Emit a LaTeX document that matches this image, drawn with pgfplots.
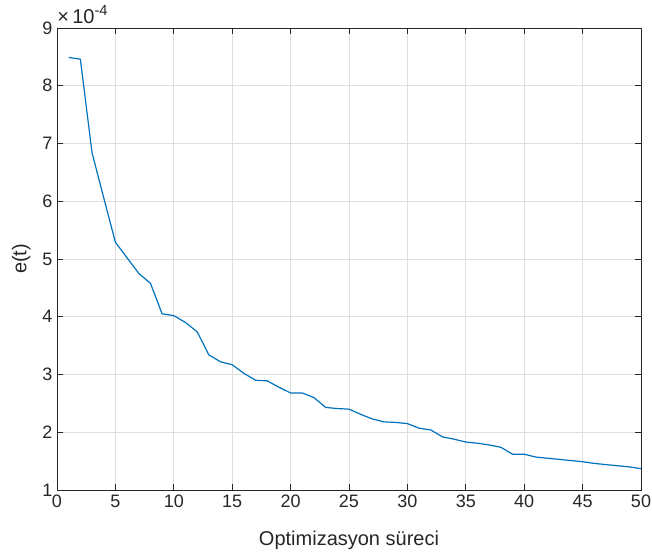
\documentclass[border=0pt]{standalone}
\usepackage{fontspec}
\setmainfont{Liberation Sans}
\usepackage{pgfplots}
\pgfplotsset{compat=1.18}
\definecolor{mblue}{RGB}{0,114,189}
\definecolor{axgray}{RGB}{38,38,38}
\definecolor{gridgray}{RGB}{222,222,222}

\begin{document}
\begin{tikzpicture}[x=1pt,y=1pt]
% page = 652x555 px at 0.75pt per px, axis box at 57..641 x 28..490 px
\path[use as bounding box] (-42.75,-48.75) rectangle (446.25,367.5);
\begin{axis}[
  at={(0,0)}, anchor=south west,
  scale only axis, width=438pt, height=346.5pt,
  xmin=0, xmax=50, ymin=1e-4, ymax=9e-4,
  xtick={0,5,10,15,20,25,30,35,40,45,50},
  ytick={1e-4,2e-4,3e-4,4e-4,5e-4,6e-4,7e-4,8e-4,9e-4},
  scaled y ticks=base 10:4,
  ytick scale label code/.code={×\,10\raisebox{0.75ex}{\fontsize{11}{13}\selectfont #1}},
  every y tick scale label/.style={at={(rel axis cs:0,1)}, anchor=south west,
    inner sep=0pt, yshift=3pt, font=\fontsize{15}{18}\selectfont, text=axgray},
  tick align=inside, tick pos=both,
  major tick length=4.5pt,
  grid=major, major grid style={gridgray, line width=0.6pt},
  axis line style={axgray, line width=0.6pt},
  tick style={axgray, line width=0.6pt},
  ticklabel style={font=\fontsize{13.5}{16}\selectfont, text=axgray},
  label style={font=\fontsize{15}{18}\selectfont, text=axgray},
  xlabel style={yshift=-11pt},
  ylabel style={yshift=2pt},
  /pgf/number format/assume math mode=true,
  xlabel={Optimizasyon süreci}, ylabel={e(t)},
]
\addplot[mblue, line width=0.9pt] coordinates {
 (1,8.49e-4) (2,8.46e-4) (3,6.84e-4) (4,6.06e-4) (5,5.29e-4)
 (6,5.02e-4) (7,4.75e-4) (8,4.58e-4) (9,4.05e-4) (10,4.02e-4)
 (11,3.90e-4) (12,3.74e-4) (13,3.34e-4) (14,3.22e-4) (15,3.17e-4)
 (16,3.02e-4) (17,2.90e-4) (18,2.89e-4) (19,2.78e-4) (20,2.68e-4)
 (21,2.68e-4) (22,2.60e-4) (23,2.43e-4) (24,2.41e-4) (25,2.40e-4)
 (26,2.31e-4) (27,2.23e-4) (28,2.18e-4) (29,2.17e-4) (30,2.15e-4)
 (31,2.07e-4) (32,2.04e-4) (33,1.92e-4) (34,1.88e-4) (35,1.83e-4)
 (36,1.81e-4) (37,1.78e-4) (38,1.74e-4) (39,1.62e-4) (40,1.62e-4)
 (41,1.57e-4) (42,1.55e-4) (43,1.53e-4) (44,1.51e-4) (45,1.49e-4)
 (46,1.46e-4) (47,1.44e-4) (48,1.42e-4) (49,1.40e-4) (50,1.37e-4)
};
\end{axis}
\end{tikzpicture}
\end{document}
